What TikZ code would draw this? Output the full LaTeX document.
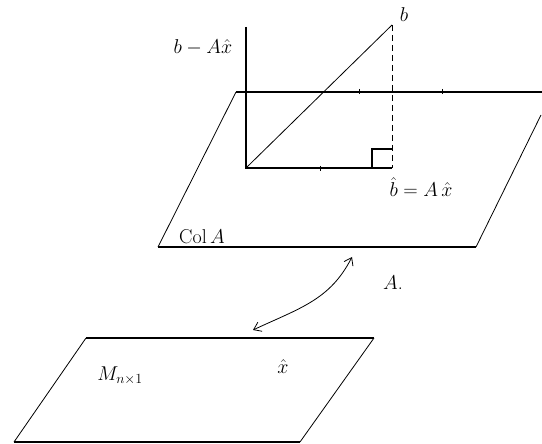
\documentclass[tikz,border=0pt]{standalone}
\usepackage{fix-cm}
\usetikzlibrary{arrows.meta}
\begin{document}
\begin{tikzpicture}[x=1pt,y=-1pt,
  edge/.style={line width=1.1pt},
  thin edge/.style={line width=0.8pt},
  lab/.style={font=\fontsize{20}{22}\selectfont, inner sep=0pt},
  tick/.style={line width=0.9pt}]
\useasboundingbox (0,0) rectangle (542,444);
% upper plane
\coordinate (u1) at (236,92);
\coordinate (u2) at (542,92);
\coordinate (u3) at (541,115);
\coordinate (u4) at (476,247);
\coordinate (u5) at (158,247);
\draw[edge] (u1) -- (u2);
\draw[thin edge] (u3) -- (u4);
\draw[edge] (u4) -- (u5);
\draw[thin edge] (u5) -- (u1);
% axes
\coordinate (o) at (246,168);
\coordinate (ytop) at (246,27);
\coordinate (p) at (392,168);
\coordinate (bpt) at (392,25);
\draw[edge] (ytop) -- (o) -- (p);
\draw[thin edge] (o) -- (bpt);
\draw[thin edge, dashed, dash pattern=on 6pt off 4pt] (bpt) -- (p);
\draw[edge] (372,168) -- (372,149) -- (392,149);
% ticks
\draw[tick] (320,166) -- (320,171);
\draw[tick] (359,89) -- (359,94);
\draw[tick] (442,89) -- (442,94);
% labels
\node[lab] (lb) at (404,15) {$b$};
\node[lab] (lbmax) at (203,47) {$b - A\hat{x}$};
\node[lab] (lbhat) at (421,187) {$\hat{b} = A\,\hat{x}$};
\node[lab] (lcol) at (202,237) {Col\,$A$};
\node[lab] (lA) at (393,283) {$A$.};
% lower plane
\coordinate (l1) at (86,338);
\coordinate (l2) at (374,338);
\coordinate (l3) at (300,442);
\coordinate (l4) at (14,442);
\draw[edge] (l1) -- (l2);
\draw[thin edge] (l2) -- (l3);
\draw[edge] (l3) -- (l4);
\draw[thin edge] (l4) -- (l1);
\node[lab] (lM) at (120,376) {$M_{n\times 1}$};
\node[lab] (lx) at (283,367) {$\hat{x}$};
% curved double arrow
\coordinate (a1) at (352,257);
\coordinate (a2) at (253,330);
\draw[thin edge, {Straight Barb[length=7pt,width=10pt]}-{Straight Barb[length=7pt,width=10pt]}]
  (a2) .. controls (300,308) and (330,300) .. (a1);
\end{tikzpicture}
\end{document}
